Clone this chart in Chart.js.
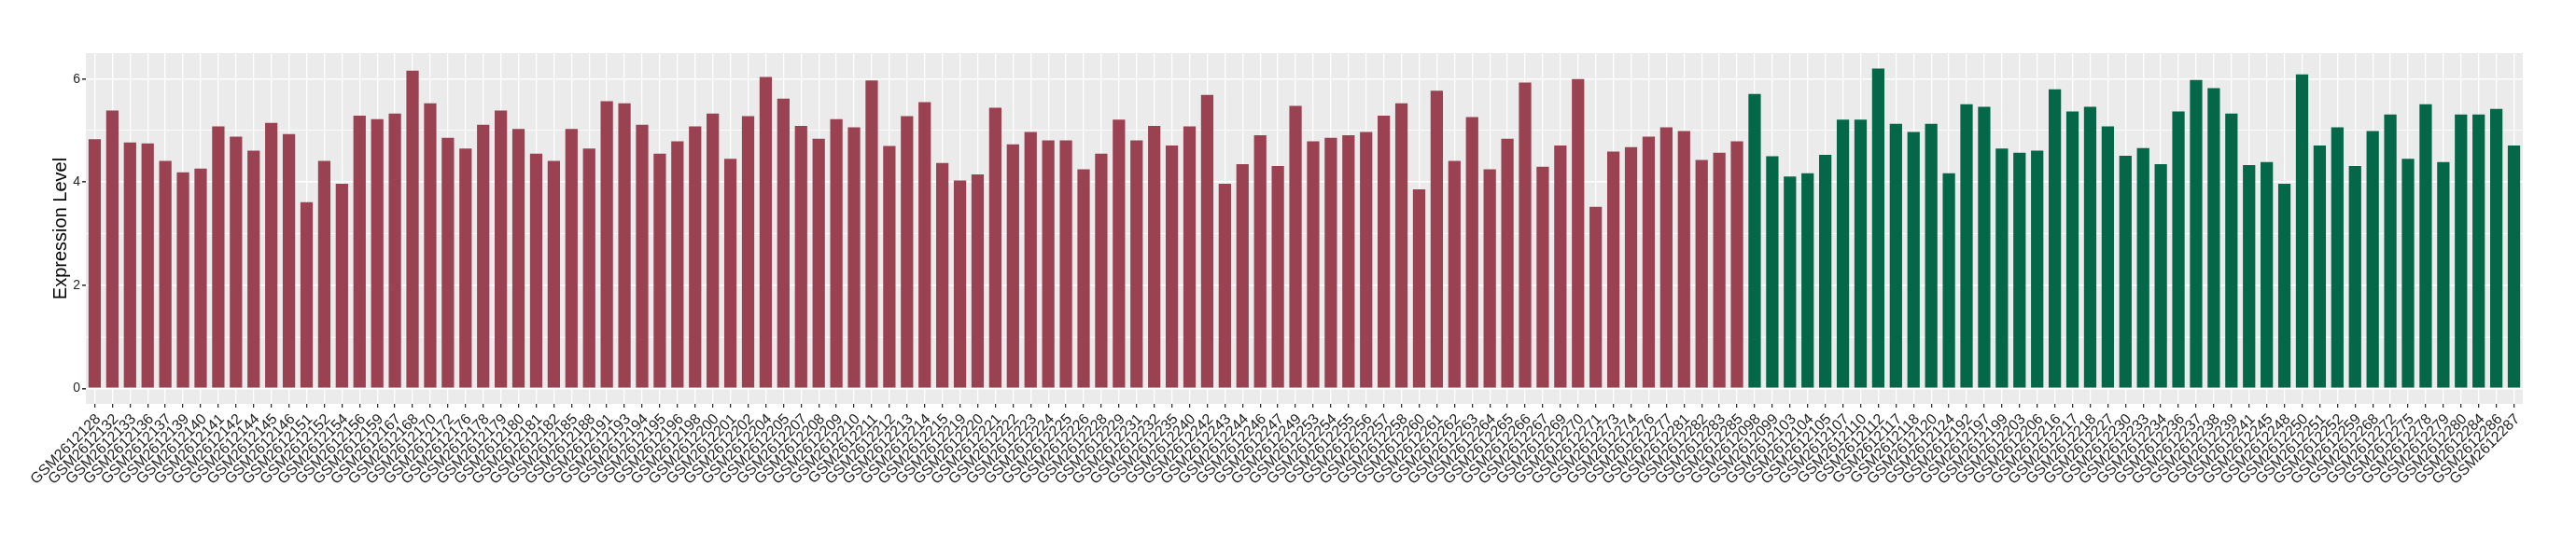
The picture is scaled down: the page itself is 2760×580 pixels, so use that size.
<!DOCTYPE html>
<html lang="en">
<head>
    <meta charset="UTF-8">
    <title>Expression Level</title>
    <script src="https://cdn.jsdelivr.net/npm/chart.js"></script>
    <style>
        html, body { margin: 0; padding: 0; background: #fff; }
        .chart-container { width: 2760px; height: 580px; }
    </style>
</head>
<body>
    <div class="chart-container">
        <canvas id="exprChart" width="2760" height="580"></canvas>
    </div>

    <script>
        // group 1 (red)
        const redSamples = [
            'GSM2612128','GSM2612132','GSM2612133','GSM2612136','GSM2612137','GSM2612139','GSM2612140','GSM2612141','GSM2612142','GSM2612144',
            'GSM2612145','GSM2612146','GSM2612151','GSM2612152','GSM2612154','GSM2612156','GSM2612159','GSM2612167','GSM2612168','GSM2612170',
            'GSM2612172','GSM2612176','GSM2612178','GSM2612179','GSM2612180','GSM2612181','GSM2612182','GSM2612185','GSM2612188','GSM2612191',
            'GSM2612193','GSM2612194','GSM2612195','GSM2612196','GSM2612198','GSM2612200','GSM2612201','GSM2612202','GSM2612204','GSM2612205',
            'GSM2612207','GSM2612208','GSM2612209','GSM2612210','GSM2612211','GSM2612212','GSM2612213','GSM2612214','GSM2612215','GSM2612219',
            'GSM2612220','GSM2612221','GSM2612222','GSM2612223','GSM2612224','GSM2612225','GSM2612226','GSM2612228','GSM2612229','GSM2612231',
            'GSM2612232','GSM2612235','GSM2612240','GSM2612242','GSM2612243','GSM2612244','GSM2612246','GSM2612247','GSM2612249','GSM2612253',
            'GSM2612254','GSM2612255','GSM2612256','GSM2612257','GSM2612258','GSM2612260','GSM2612261','GSM2612262','GSM2612263','GSM2612264',
            'GSM2612265','GSM2612266','GSM2612267','GSM2612269','GSM2612270','GSM2612271','GSM2612273','GSM2612274','GSM2612276','GSM2612277',
            'GSM2612281','GSM2612282','GSM2612283','GSM2612285'
        ];
        const redValues = [
            4.83, 5.39, 4.77, 4.75, 4.41, 4.19, 4.26, 5.08, 4.88, 4.61,
            5.15, 4.93, 3.61, 4.41, 3.97, 5.29, 5.22, 5.33, 6.16, 5.53,
            4.86, 4.65, 5.11, 5.39, 5.03, 4.55, 4.41, 5.03, 4.65, 5.57,
            5.53, 5.11, 4.55, 4.79, 5.08, 5.33, 4.45, 5.28, 6.04, 5.62,
            5.09, 4.84, 5.22, 5.06, 5.97, 4.70, 5.28, 5.55, 4.37, 4.03,
            4.15, 5.44, 4.73, 4.97, 4.81, 4.81, 4.25, 4.55, 5.21, 4.81,
            5.09, 4.71, 5.08, 5.69, 3.97, 4.35, 4.91, 4.31, 5.48, 4.79,
            4.86, 4.91, 4.97, 5.29, 5.53, 3.86, 5.77, 4.41, 5.26, 4.25,
            4.84, 5.93, 4.30, 4.71, 6.00, 3.52, 4.59, 4.68, 4.88, 5.06,
            4.99, 4.43, 4.57, 4.79
        ];

        // group 2 (green)
        const greenSamples = [
            'GSM2612098','GSM2612099','GSM2612103','GSM2612104','GSM2612105','GSM2612107','GSM2612110','GSM2612112','GSM2612117','GSM2612118',
            'GSM2612120','GSM2612124','GSM2612192','GSM2612197','GSM2612199','GSM2612203','GSM2612206','GSM2612216','GSM2612217','GSM2612218',
            'GSM2612227','GSM2612230','GSM2612233','GSM2612234','GSM2612236','GSM2612237','GSM2612238','GSM2612239','GSM2612241','GSM2612245',
            'GSM2612248','GSM2612250','GSM2612251','GSM2612252','GSM2612259','GSM2612268','GSM2612272','GSM2612275','GSM2612278','GSM2612279',
            'GSM2612280','GSM2612284','GSM2612286','GSM2612287'
        ];
        const greenValues = [
            5.71, 4.50, 4.11, 4.17, 4.53, 5.21, 5.21, 6.20, 5.13, 4.97,
            5.13, 4.17, 5.51, 5.46, 4.65, 4.57, 4.61, 5.80, 5.37, 5.46,
            5.08, 4.51, 4.66, 4.35, 5.37, 5.98, 5.82, 5.33, 4.33, 4.39,
            3.97, 6.09, 4.71, 5.06, 4.31, 4.99, 5.31, 4.45, 5.51, 4.39,
            5.31, 5.31, 5.42, 4.71
        ];

        const yTicks = [0, 1, 2, 3, 4, 5, 6]; // odd ones are minor grid only

        const RED = '#9A4252';
        const GREEN = '#036748';

        const labels = redSamples.concat(greenSamples);
        const values = redValues.concat(greenValues);
        const colors = redSamples.map(() => RED).concat(greenSamples.map(() => GREEN));

        // grey panel like ggplot
        const panelBg = {
            id: 'panelBg',
            beforeDraw(chart) {
                const a = chart.chartArea;
                const ctx = chart.ctx;
                ctx.save();
                ctx.fillStyle = '#EBEBEB';
                ctx.fillRect(a.left, a.top, a.right - a.left, a.bottom - a.top);
                ctx.restore();
            }
        };

        const ctx = document.getElementById('exprChart').getContext('2d');
        new Chart(ctx, {
            type: 'bar',
            data: {
                labels: labels,
                datasets: [{
                    label: 'Expression Level',
                    data: values,
                    backgroundColor: colors,
                    borderWidth: 0,
                    barPercentage: 0.7,
                    categoryPercentage: 1.0
                }]
            },
            options: {
                responsive: false,
                animation: false,
                devicePixelRatio: 1,
                layout: { padding: { left: 0, top: 57, right: 57, bottom: 0 } },
                plugins: {
                    legend: { display: false },
                    tooltip: { enabled: false }
                },
                scales: {
                    x: {
                        offset: true,
                        border: { display: false },
                        grid: {
                            offset: false,
                            color: '#FFFFFF',
                            lineWidth: 1.3,
                            tickColor: '#333333',
                            tickLength: 4,
                            drawOnChartArea: true
                        },
                        ticks: {
                            autoSkip: false,
                            minRotation: 45,
                            maxRotation: 45,
                            padding: 3,
                            labelOffset: 4,
                            color: '#222222',
                            font: { family: 'Liberation Sans', size: 16 }
                        },
                        afterFit(scale) { scale.height = 147; }
                    },
                    y: {
                        min: -0.3,
                        max: 6.5,
                        border: { display: false },
                        afterBuildTicks(scale) {
                            scale.ticks = yTicks.map(v => ({ value: v }));
                        },
                        grid: {
                            color: '#FFFFFF',
                            lineWidth: c => (c.tick && c.tick.value % 2 === 0) ? 1.6 : 0.8,
                            tickColor: c => (c.tick && c.tick.value % 2 === 0) ? '#333333' : 'rgba(0,0,0,0)',
                            tickLength: 4
                        },
                        ticks: {
                            padding: 2,
                            color: '#222222',
                            font: { family: 'Liberation Sans', size: 14 },
                            callback: v => (v % 2 === 0 ? String(v) : '')
                        },
                        title: {
                            display: true,
                            text: 'Expression Level',
                            color: '#000000',
                            font: { family: 'Liberation Sans', size: 20 },
                            padding: { top: 53, bottom: 0 }
                        },
                        afterFit(scale) { scale.width = 92; }
                    }
                }
            },
            plugins: [panelBg]
        });
    </script>
</body>
</html>
